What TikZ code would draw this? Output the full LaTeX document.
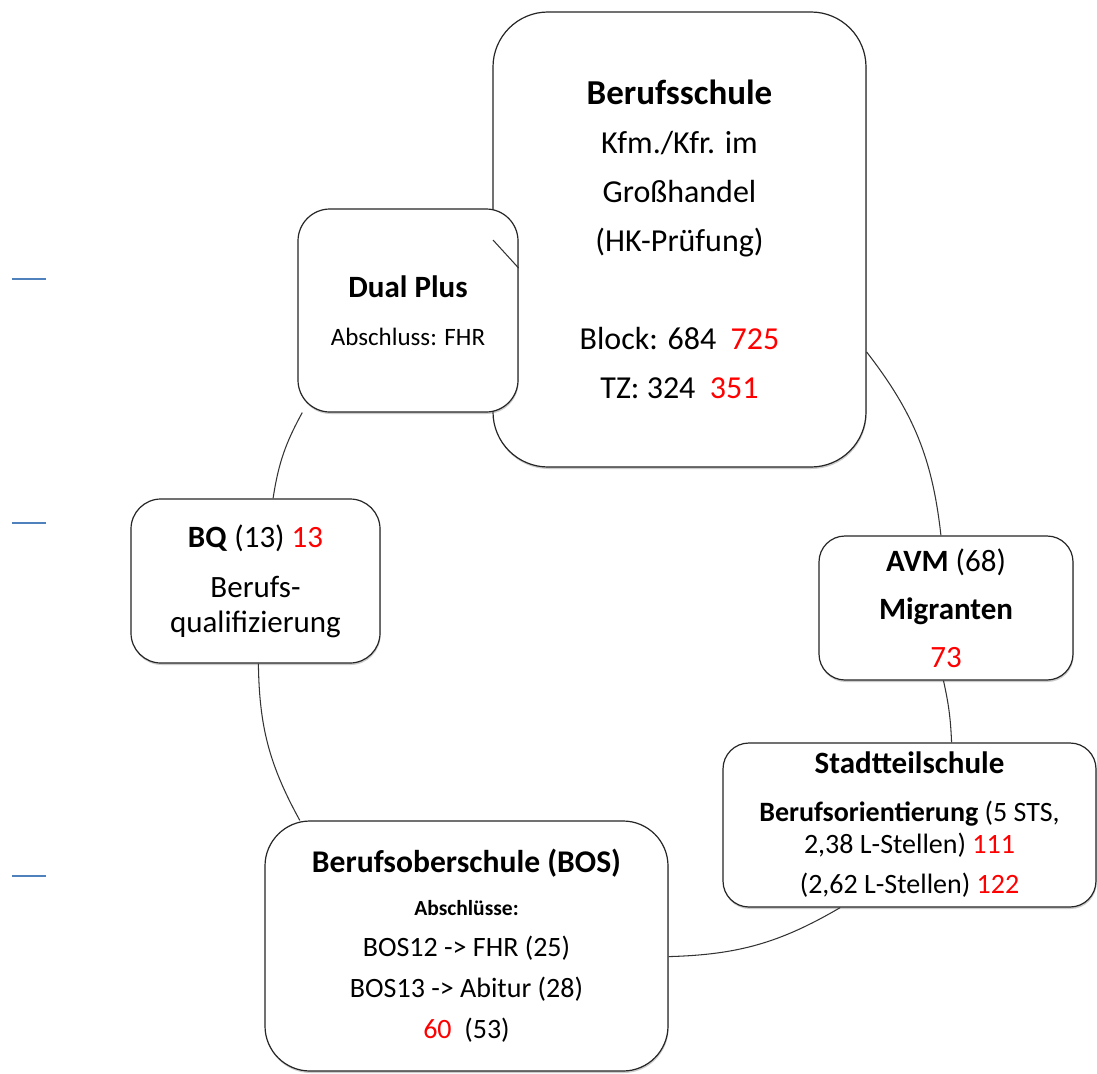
\documentclass[tikz,border=0pt]{standalone}
\usepackage{fontspec}
\setmainfont{Carlito}
\usetikzlibrary{shadows}
\definecolor{numred}{RGB}{255,0,0}
\definecolor{markblue}{RGB}{79,129,189}
\newcommand\fz[2]{\fontsize{#1}{#2}\selectfont}
\newcommand\nr[1]{\textcolor{numred}{#1}}
\begin{document}
\begin{tikzpicture}[x=1pt,y=-1pt,
  box/.style={draw=black!85, line width=1.2pt, fill=white, align=center,
    inner sep=0pt, text=black,
    drop shadow={shadow xshift=0.6pt, shadow yshift=-2pt, opacity=0.4}},
  conn/.style={draw=black!80, line width=1.05pt},
  bluemark/.style={draw=markblue, line width=1.8pt}]
\useasboundingbox[fill=white] (0,0) rectangle (1097,1073);

% boxes
\node[box, rounded corners=55pt, minimum width=373pt, minimum height=455pt,
  font=\fz{32}{49}] (bs) at (679.5,239.5)
  {{\fz{35}{49}\bfseries Berufsschule}\\Kfm./Kfr. im\\Großhandel\\(HK-Prüfung)\\[49pt]Block: 684~~\nr{725}\\TZ: 324~~\nr{351}};

\node[box, rounded corners=32pt, minimum width=220pt, minimum height=203pt,
  font=\fz{31}{48}] (dp) at (408,310.5)
  {\textbf{Dual Plus}\\{\fz{25}{48}Abschluss: FHR}};

\node[box, rounded corners=30pt, minimum width=249pt, minimum height=164pt,
  font=\fz{31}{35}] (bq) at (255.5,581)
  {\textbf{BQ} (13) \nr{13}\\[15pt]Berufs-\\qualifizierung};

\node[box, rounded corners=26pt, minimum width=254pt, minimum height=144pt,
  font=\fz{31}{48}] (avm) at (946,608)
  {\textbf{AVM} (68)\\\textbf{Migranten}\\\nr{73}};

\node[box, rounded corners=26pt, minimum width=373pt, minimum height=164pt,
  font=\fz{28}{32}] (stt) at (909.5,825)
  {{\fz{31}{32}\bfseries Stadtteilschule}\\[16pt]\textbf{Berufsorientierung} (5 STS,\\2,38 L-Stellen) \nr{111}\\[8pt](2,62 L-Stellen) \nr{122}};

\node[box, rounded corners=45pt, minimum width=403pt, minimum height=250pt,
  font=\fz{28}{41}] (bos) at (466.5,946)
  {{\fz{31.6}{41}\bfseries Berufsoberschule (BOS)}\\[2pt]{\fz{21.5}{41}\bfseries Abschlüsse:}\\BOS12 -> FHR (25)\\BOS13 -> Abitur (28)\\\nr{60}~~(53)};

% connectors
\draw[conn] (bs.-31.6) to[bend left=15.7] (avm.94.8);
\draw[conn] (avm.-92.4) to[bend left=5] (stt.63.7);
\draw[conn] (stt.-130.3) to[bend left=14.4] (bos.-3.4);
\draw[conn] (bos.143.8) to[bend left=14] (bq.-88.3);
\draw[conn] (bq.78) to[bend left=10] (dp.-136.8);
\coordinate (c6) at (493,240);
\draw[conn] (c6) -- (dp.21.1);

% blue marks
\coordinate (m1a) at (12,279); \coordinate (m1b) at (46,279);
\coordinate (m2a) at (12,523); \coordinate (m2b) at (46,523);
\coordinate (m3a) at (12,876); \coordinate (m3b) at (46,876);
\draw[bluemark] (m1a) -- (m1b);
\draw[bluemark] (m2a) -- (m2b);
\draw[bluemark] (m3a) -- (m3b);
\end{tikzpicture}
\end{document}
